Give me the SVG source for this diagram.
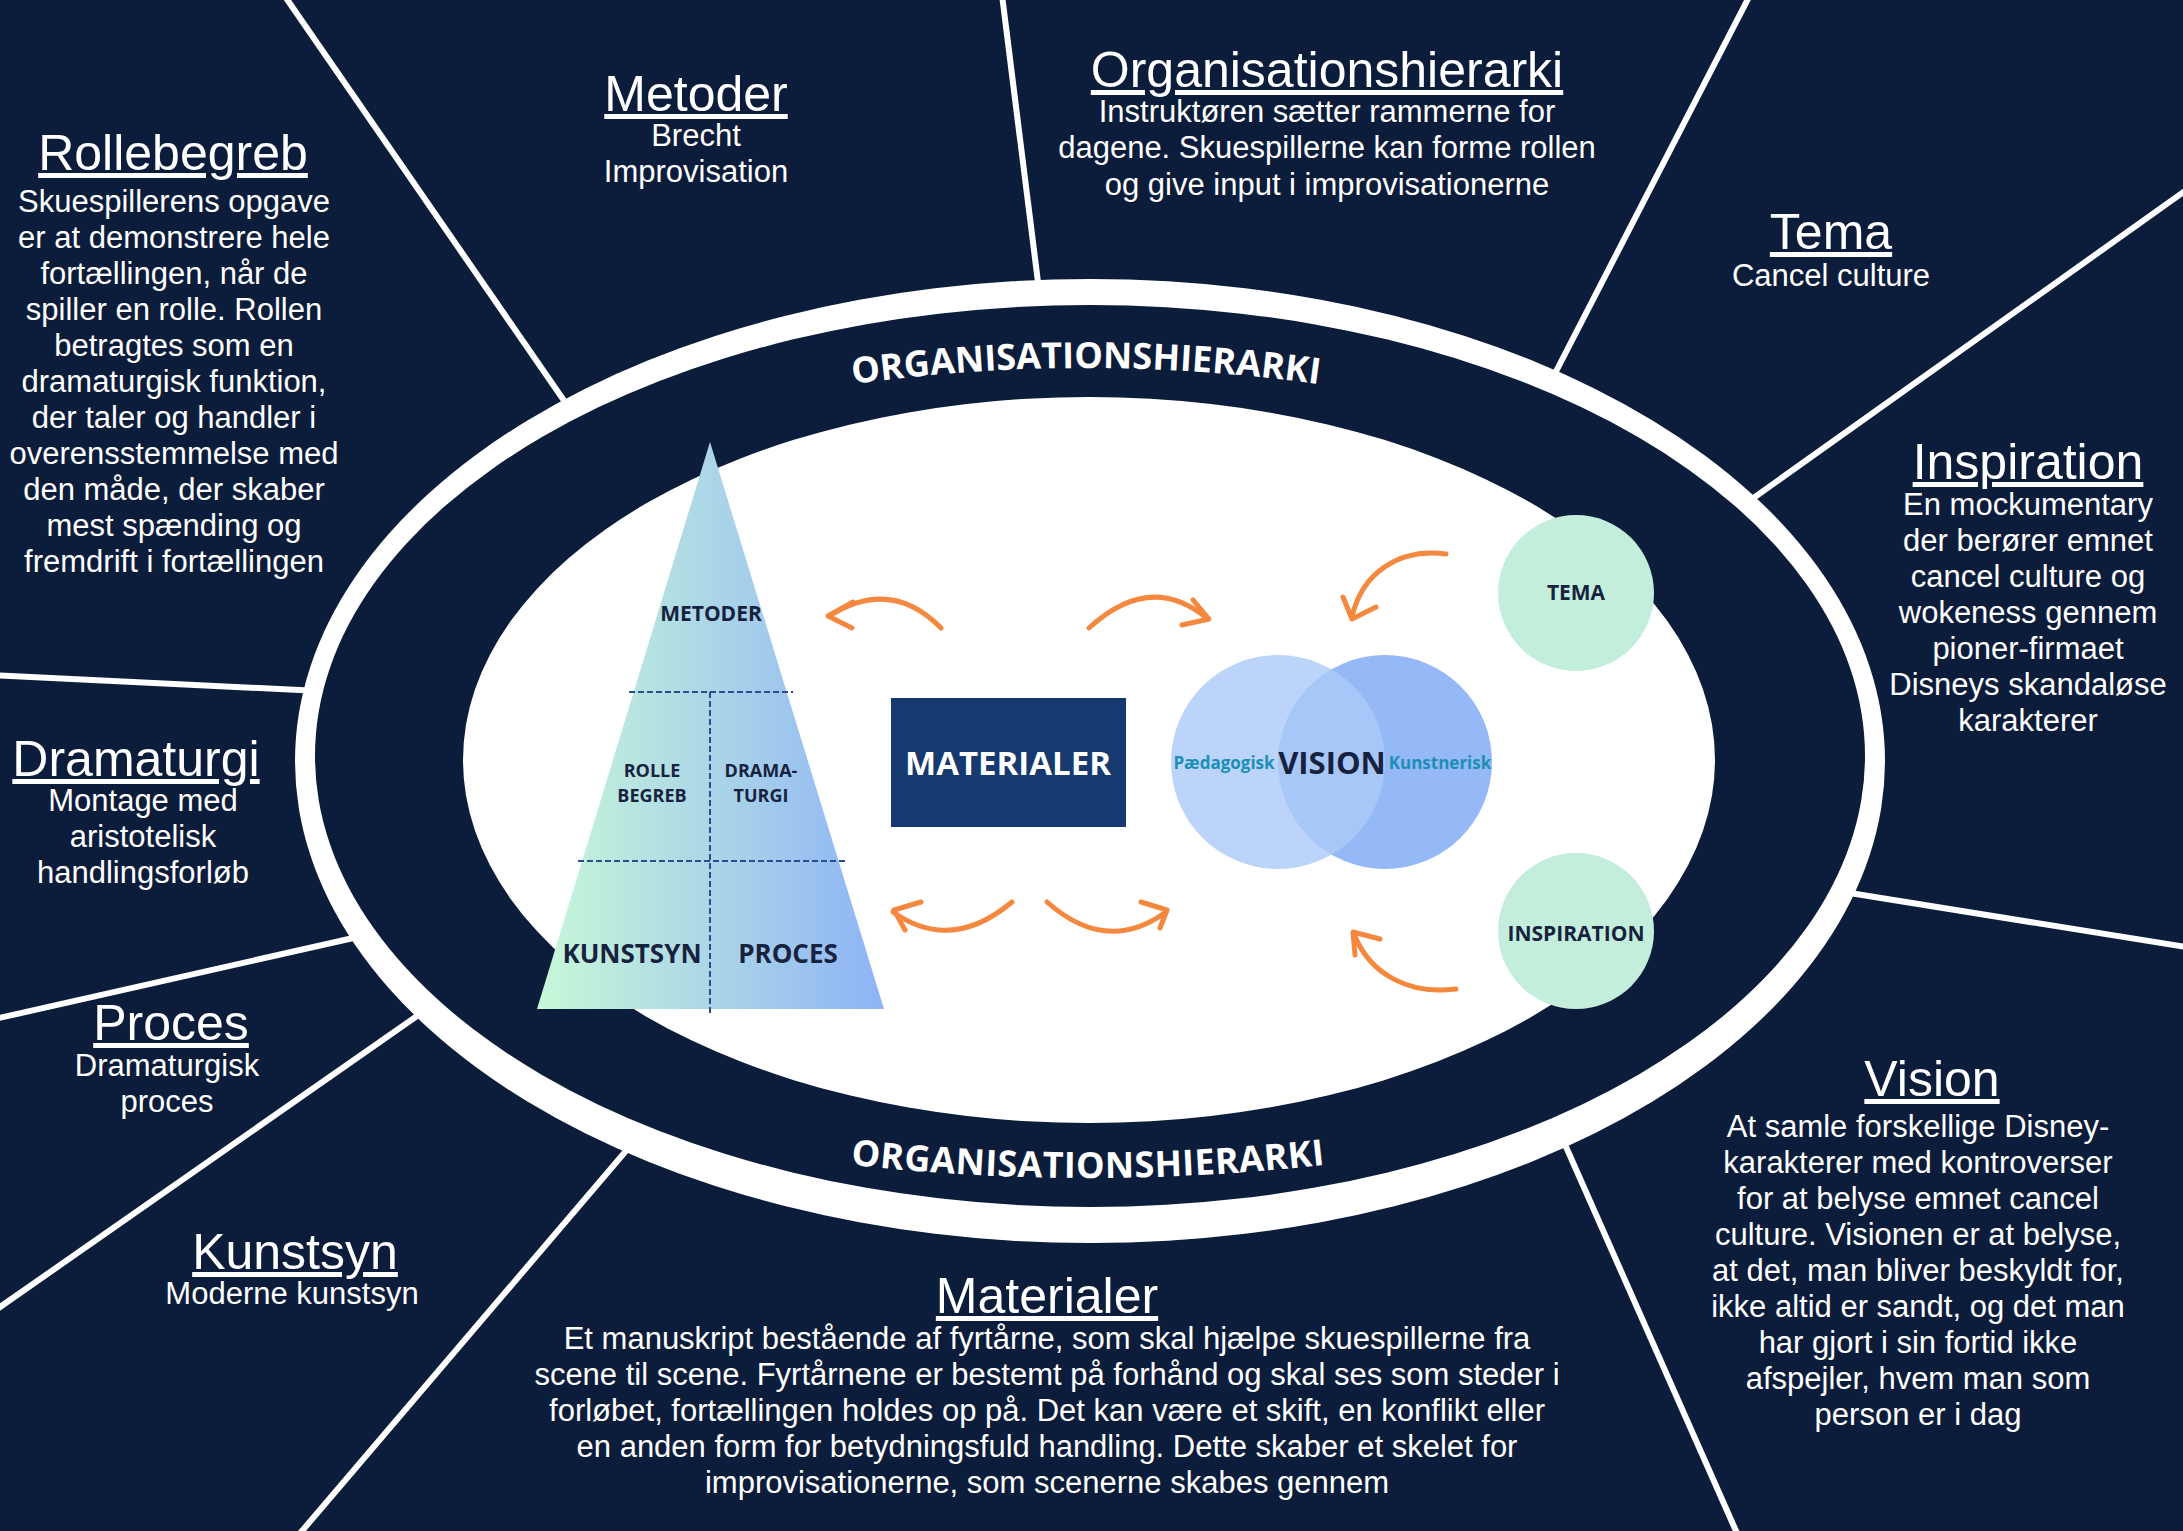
<svg xmlns="http://www.w3.org/2000/svg" width="2183" height="1531" viewBox="0 0 2183 1531">
<defs>
<style>
.h{font-family:"Liberation Sans",Arial,sans-serif;font-size:50px;fill:#fff;text-anchor:middle;text-decoration:underline}
.b{font-family:"Liberation Sans",Arial,sans-serif;font-size:31px;fill:#fff;text-anchor:middle}
.pl{font-family:"Open Sans","Liberation Sans",sans-serif;font-weight:700;fill:#17223f;text-anchor:middle}
.arc{font-family:"Open Sans","Liberation Sans",sans-serif;font-weight:700;font-size:36px;fill:#fff}
.sp{stroke:#fff;stroke-width:6;fill:none}
.ar{stroke:#f5883f;stroke-width:5;fill:none;stroke-linecap:round;stroke-linejoin:round}
.teal{font-family:"Open Sans","Liberation Sans",sans-serif;font-weight:700;font-size:17px;fill:#1b8fb5;text-anchor:middle}
</style>
<linearGradient id="pyr" x1="537" y1="0" x2="884" y2="0" gradientUnits="userSpaceOnUse">
<stop offset="0" stop-color="#c7f8d8"/>
<stop offset="0.5" stop-color="#acd6e7"/>
<stop offset="1" stop-color="#8db3f6"/>
</linearGradient>
<path id="arcTop" d="M840,386 Q1086,350 1332,386"/>
<path id="arcBot" d="M836,1163 Q1088,1193 1340,1163"/>
</defs>
<rect x="0" y="0" width="2183" height="1531" fill="#0c1d3b"/>
<g id="dividers">
<line class="sp" x1="284" y1="-5" x2="605" y2="460"/>
<line class="sp" x1="1002" y1="-5" x2="1044" y2="330"/>
<line class="sp" x1="1750" y1="-5" x2="1531" y2="420"/>
<line class="sp" x1="2192" y1="186" x2="1700" y2="536"/>
<line class="sp" x1="2192" y1="948" x2="1800" y2="885"/>
<line class="sp" x1="1540" y1="1088" x2="1740" y2="1540"/>
<line class="sp" x1="660" y1="1111" x2="296" y2="1538"/>
<line class="sp" x1="460" y1="986" x2="-10" y2="1314"/>
<line class="sp" x1="420" y1="923" x2="-10" y2="1020"/>
<line class="sp" x1="360" y1="693" x2="-10" y2="675"/>
</g>
<g id="ring">
<ellipse cx="1090" cy="761" rx="795" ry="482" fill="#fff"/>
<ellipse cx="1090" cy="756" rx="775" ry="451" fill="#0c1d3b"/>
<ellipse cx="1089" cy="760" rx="626" ry="363" fill="#fff"/>
<text class="arc"><textPath href="#arcTop" startOffset="50%" text-anchor="middle">ORGANISATIONSHIERARKI</textPath></text>
<text class="arc" letter-spacing="0.4"><textPath href="#arcBot" startOffset="50%" text-anchor="middle">ORGANISATIONSHIERARKI</textPath></text>
</g>
<g id="pyramid">
<polygon points="710,442 884,1009 537,1009" fill="url(#pyr)"/>
<g stroke="#2a4d8f" stroke-width="2" stroke-dasharray="6,3" fill="none">
<line x1="629" y1="692" x2="793" y2="692"/>
<line x1="578" y1="861" x2="847" y2="861"/>
<line x1="710" y1="692" x2="710" y2="1014"/>
</g>
<text class="pl" x="711" y="621" font-size="21">METODER</text>
<text class="pl" x="652" y="777" font-size="18">ROLLE</text>
<text class="pl" x="652" y="802" font-size="18">BEGREB</text>
<text class="pl" x="761" y="777" font-size="18">DRAMA-</text>
<text class="pl" x="761" y="802" font-size="18">TURGI</text>
<text class="pl" x="632" y="963" font-size="26">KUNSTSYN</text>
<text class="pl" x="788" y="963" font-size="26">PROCES</text>
</g>
<g id="materialer-box">
<rect x="891" y="698" width="235" height="129" fill="#16396f"/>
<text class="pl" x="1008" y="775" font-size="33" style="fill:#fff">MATERIALER</text>
</g>
<g id="vision">
<circle cx="1385" cy="762" r="107" fill="#94b9f6"/>
<circle cx="1278" cy="762" r="107" fill="#adcaf9" fill-opacity="0.81"/>
<text class="teal" x="1224" y="769">Pædagogisk</text>
<text class="pl" x="1332" y="774" font-size="31">VISION</text>
<text class="teal" x="1440" y="769">Kunstnerisk</text>
</g>
<g id="tema-node">
<circle cx="1576" cy="593" r="78" fill="#c2eedb"/>
<text class="pl" x="1576" y="600" font-size="21">TEMA</text>
</g>
<g id="inspiration-node">
<circle cx="1576" cy="931" r="78" fill="#c2eedb"/>
<text class="pl" x="1576" y="941" font-size="21">INSPIRATION</text>
</g>
<g id="connectors">
<path class="ar" d="M941,628 Q891,577 829,616"/>
<path class="ar" d="M853,602 L828,616 L852,628"/>
<path class="ar" d="M1089,628 Q1151,571 1208,619"/>
<path class="ar" d="M1193,600 L1209,619 L1182,625"/>
<path class="ar" d="M1446,554 C1400,548 1362,572 1352,617"/>
<path class="ar" d="M1343,597 L1352,619 L1376,607"/>
<path class="ar" d="M1456,989 C1410,995 1370,975 1354,934"/>
<path class="ar" d="M1380,939 L1353,932 L1355,955"/>
<path class="ar" d="M1012,902 Q951,953 893,912"/>
<path class="ar" d="M921,902 L894,910 L905,930"/>
<path class="ar" d="M1047,902 Q1107,955 1166,912"/>
<path class="ar" d="M1141,902 L1167,910 L1160,928"/>
</g>
<g id="rollebegreb">
<text class="h" x="173" y="170">Rollebegreb</text>
<text class="b" x="174" y="212">Skuespillerens opgave</text>
<text class="b" x="174" y="248">er at demonstrere hele</text>
<text class="b" x="174" y="284">fortællingen, når de</text>
<text class="b" x="174" y="320">spiller en rolle. Rollen</text>
<text class="b" x="174" y="356">betragtes som en</text>
<text class="b" x="174" y="392">dramaturgisk funktion,</text>
<text class="b" x="174" y="428">der taler og handler i</text>
<text class="b" x="174" y="464">overensstemmelse med</text>
<text class="b" x="174" y="500">den måde, der skaber</text>
<text class="b" x="174" y="536">mest spænding og</text>
<text class="b" x="174" y="572">fremdrift i fortællingen</text>
</g>
<g id="metoder">
<text class="h" x="696" y="111">Metoder</text>
<text class="b" x="696" y="146">Brecht</text>
<text class="b" x="696" y="182">Improvisation</text>
</g>
<g id="organisationshierarki">
<text class="h" x="1327" y="87">Organisationshierarki</text>
<text class="b" x="1327" y="122">Instruktøren sætter rammerne for</text>
<text class="b" x="1327" y="158">dagene. Skuespillerne kan forme rollen</text>
<text class="b" x="1327" y="195">og give input i improvisationerne</text>
</g>
<g id="tema">
<text class="h" x="1831" y="249">Tema</text>
<text class="b" x="1831" y="286">Cancel culture</text>
</g>
<g id="inspiration">
<text class="h" x="2028" y="479">Inspiration</text>
<text class="b" x="2028" y="515">En mockumentary</text>
<text class="b" x="2028" y="551">der berører emnet</text>
<text class="b" x="2028" y="587">cancel culture og</text>
<text class="b" x="2028" y="623">wokeness gennem</text>
<text class="b" x="2028" y="659">pioner-firmaet</text>
<text class="b" x="2028" y="695">Disneys skandaløse</text>
<text class="b" x="2028" y="731">karakterer</text>
</g>
<g id="dramaturgi">
<text class="h" x="136" y="776">Dramaturgi</text>
<text class="b" x="143" y="811">Montage med</text>
<text class="b" x="143" y="847">aristotelisk</text>
<text class="b" x="143" y="883">handlingsforløb</text>
</g>
<g id="proces">
<text class="h" x="171" y="1040">Proces</text>
<text class="b" x="167" y="1076">Dramaturgisk</text>
<text class="b" x="167" y="1112">proces</text>
</g>
<g id="kunstsyn">
<text class="h" x="295" y="1269">Kunstsyn</text>
<text class="b" x="292" y="1304">Moderne kunstsyn</text>
</g>
<g id="materialer">
<text class="h" x="1047" y="1313">Materialer</text>
<text class="b" x="1047" y="1349">Et manuskript bestående af fyrtårne, som skal hjælpe skuespillerne fra</text>
<text class="b" x="1047" y="1385">scene til scene. Fyrtårnene er bestemt på forhånd og skal ses som steder i</text>
<text class="b" x="1047" y="1421">forløbet, fortællingen holdes op på. Det kan være et skift, en konflikt eller</text>
<text class="b" x="1047" y="1457">en anden form for betydningsfuld handling. Dette skaber et skelet for</text>
<text class="b" x="1047" y="1493">improvisationerne, som scenerne skabes gennem</text>
</g>
<g id="vision-text">
<text class="h" x="1932" y="1096">Vision</text>
<text class="b" x="1918" y="1137">At samle forskellige Disney-</text>
<text class="b" x="1918" y="1173">karakterer med kontroverser</text>
<text class="b" x="1918" y="1209">for at belyse emnet cancel</text>
<text class="b" x="1918" y="1245">culture. Visionen er at belyse,</text>
<text class="b" x="1918" y="1281">at det, man bliver beskyldt for,</text>
<text class="b" x="1918" y="1317">ikke altid er sandt, og det man</text>
<text class="b" x="1918" y="1353">har gjort i sin fortid ikke</text>
<text class="b" x="1918" y="1389">afspejler, hvem man som</text>
<text class="b" x="1918" y="1425">person er i dag</text>
</g>
</svg>
